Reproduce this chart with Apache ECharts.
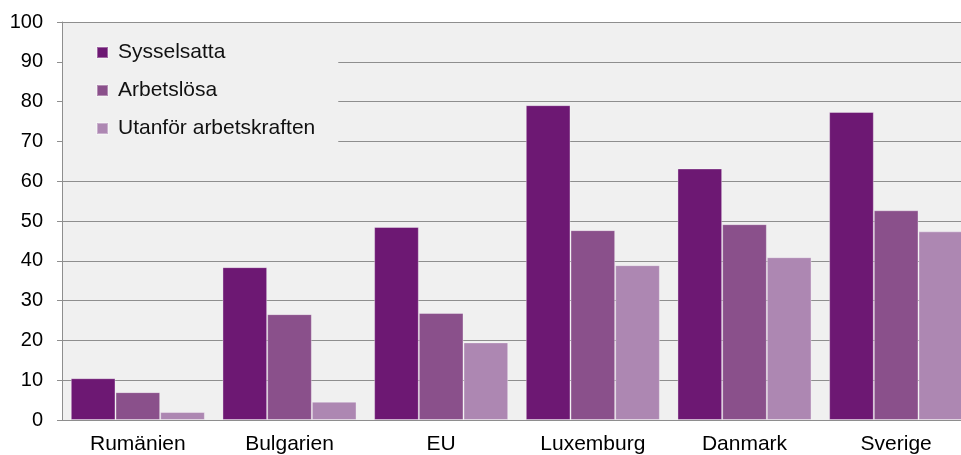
<!DOCTYPE html>
<html>
<head>
<meta charset="utf-8">
<script src="https://cdn.jsdelivr.net/npm/echarts@6/dist/echarts.min.js"></script>
<style>
html,body{margin:0;padding:0;background:#ffffff;}
#chart{width:961px;height:455px;}
</style>
</head>
<body>
<div id="chart"></div>
<script>
const categories = ['Rumänien', 'Bulgarien', 'EU', 'Luxemburg', 'Danmark', 'Sverige'];
const seriesNames = ['Sysselsatta', 'Arbetslösa', 'Utanför arbetskraften'];
const sysselsatta = [10.5, 38.4, 48.5, 79.1, 63.2, 77.4];
const arbetslosa = [7.0, 26.6, 26.9, 47.7, 49.2, 52.7];
const utanfor = [2.0, 4.6, 19.5, 38.9, 40.9, 47.4];
const yTicks = [0, 10, 20, 30, 40, 50, 60, 70, 80, 90, 100];

const colors = ['#6d1873', '#8a508b', '#ad87b2'];
const font = 'Arial, "Liberation Sans", sans-serif';

const chart = echarts.init(document.getElementById('chart'), null, {renderer: 'canvas'});
const values = [sysselsatta, arbetslosa, utanfor];

chart.setOption({
  animation: false,
  backgroundColor: '#ffffff',
  grid: {
    left: 62, top: 22, width: 910, bottom: 35,
    outerBoundsMode: 'none',
    containLabel: false,
    show: true, backgroundColor: '#f0f0f0', borderWidth: 0
  },
  legend: {
    left: 63, top: 23,
    orient: 'vertical',
    padding: [19, 23, 20, 33],
    backgroundColor: '#f0f0f0',
    itemWidth: 11, itemHeight: 11, itemGap: 17,
    icon: 'rect',
    textStyle: {fontFamily: font, fontSize: 21, color: '#111', padding: [0, 0, 0, 5]},
    data: seriesNames
  },
  xAxis: {
    type: 'category',
    data: categories,
    axisLine: {show: true, lineStyle: {color: '#8e8e8e', width: 1}},
    axisTick: {show: false},
    axisLabel: {fontFamily: font, fontSize: 21, color: '#000', margin: 14}
  },
  yAxis: {
    type: 'value',
    min: yTicks[0], max: yTicks[yTicks.length - 1], interval: 10,
    axisLine: {show: true, lineStyle: {color: '#8e8e8e', width: 1}},
    axisTick: {show: true, length: 5, lineStyle: {color: '#8e8e8e'}},
    splitLine: {show: true, lineStyle: {color: '#8e8e8e', width: 1}},
    axisLabel: {fontFamily: font, fontSize: 20, color: '#000', margin: 19}
  },
  series: seriesNames.map((n, i) => ({
    name: n,
    type: 'bar',
    data: values[i],
    barGap: '0%',
    barCategoryGap: '11.6%',
    itemStyle: {color: colors[i], borderColor: 'rgba(255,255,255,0.35)', borderWidth: 1}
  }))
});
</script>
</body>
</html>
